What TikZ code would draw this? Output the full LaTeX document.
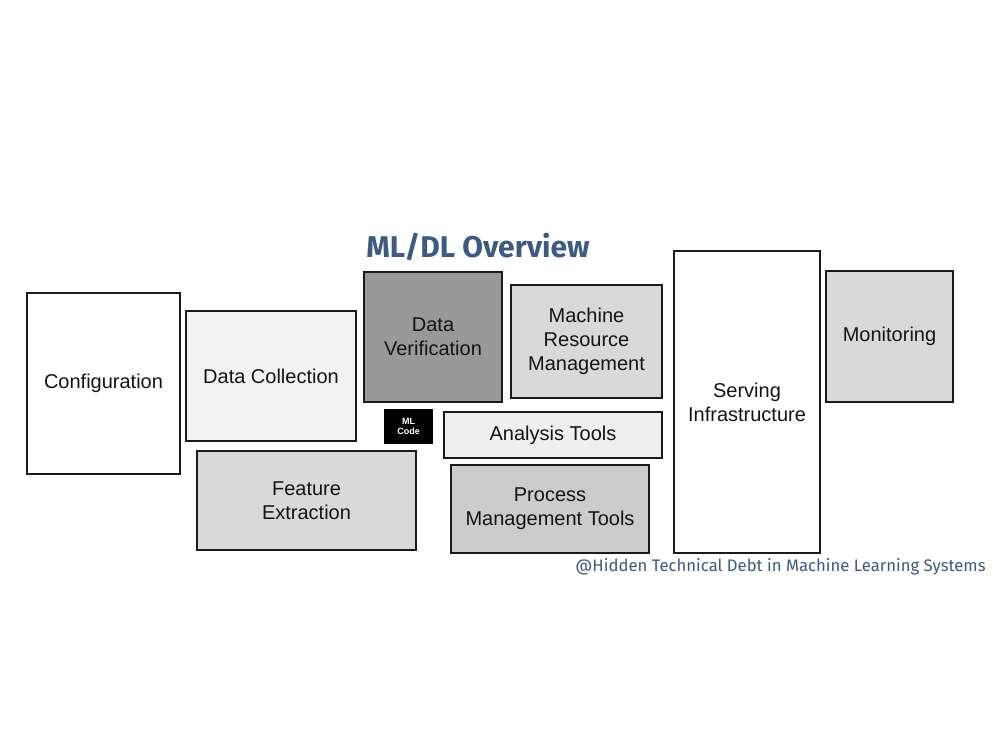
\documentclass[tikz,border=0pt]{standalone}
\usepackage{fontspec}
\setmainfont{Liberation Sans}
\newfontfamily\titlefont{Fira Sans}
\definecolor{titleblue}{HTML}{3D5A80}
\definecolor{gA}{HTML}{F2F2F2}
\definecolor{gB}{HTML}{999999}
\definecolor{gC}{HTML}{D9D9D9}
\definecolor{gD}{HTML}{EFEFEF}
\definecolor{gE}{HTML}{CCCCCC}
\definecolor{edge}{HTML}{1A1A1A}
\begin{document}
\begin{tikzpicture}[x=1pt,y=-1pt,
  blk/.style={draw=edge,line width=2pt,inner sep=0pt,align=center,
    font=\fontsize{20}{24}\selectfont,text=black!92},
  ttl/.style={font=\titlefont\bfseries\fontsize{30}{36}\selectfont,text=titleblue},
  cred/.style={font=\titlefont\fontsize{16.7}{20}\selectfont,text=titleblue}]
\useasboundingbox[fill=white] (0,0) rectangle (1000,750);
\node[blk,fill=white,minimum width=153pt,minimum height=181pt] (conf) at (103.5,383.5) {Configuration};
\node[blk,fill=gA,minimum width=170pt,minimum height=130pt] (dcol) at (271,376) {Data Collection};
\node[blk,fill=gB,minimum width=138pt,minimum height=130pt] (dver) at (433,337) {Data\\Verification};
\node[blk,fill=gC,minimum width=151pt,minimum height=113pt] (mrm) at (586.5,341.5) {Machine\\Resource\\Management};
\node[blk,fill=white,minimum width=146pt,minimum height=302pt] (serv) at (747,402) {Serving\\Infrastructure};
\node[blk,fill=gC,minimum width=127pt,minimum height=131pt] (mon) at (889.5,336.5) {Monitoring};
\node[blk,draw=black,fill=black,minimum width=47pt,minimum height=33pt,text=white,font=\bfseries\fontsize{9}{10.5}\selectfont] (mlc) at (408.5,426.5) {ML\\Code};
\node[blk,fill=gD,minimum width=218pt,minimum height=46pt] (ana) at (553,435) {Analysis Tools};
\node[blk,fill=gC,minimum width=219pt,minimum height=99pt] (feat) at (306.5,500.5) {Feature\\Extraction};
\node[blk,fill=gE,minimum width=198pt,minimum height=88pt] (pmt) at (550,509) {Process\\Management Tools};
\node[ttl] (title) at (478,247) {ML/DL Overview};
\node[cred] (credit) at (780.5,567) {@Hidden Technical Debt in Machine Learning Systems};
\end{tikzpicture}
\end{document}
